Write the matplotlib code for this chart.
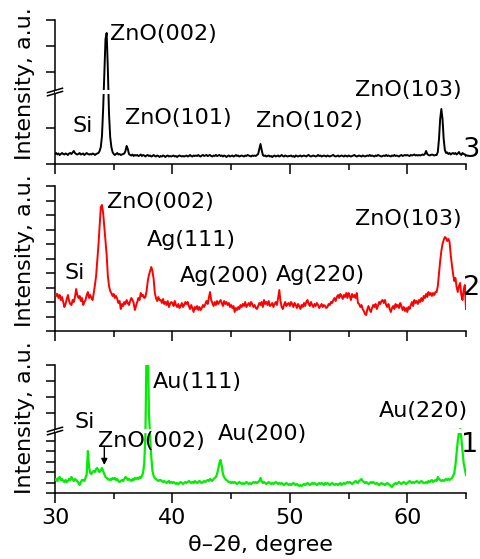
import numpy as np
import matplotlib
matplotlib.use("Agg")
import matplotlib.pyplot as plt
from matplotlib.patches import Rectangle
from matplotlib.ticker import MultipleLocator

plt.rcParams['font.family'] = ['DejaVu Sans']

# ---------------- data ----------------
angle_start, angle_stop, angle_step = 30.0, 65.0, 0.1
two_theta = np.round(np.arange(angle_start, angle_stop + angle_step / 2, angle_step), 1)

# sample 3 (black) : ZnO
intensity_zno = [
    10, 11, 9.5, 10.5, 9, 10, 11, 10, 9.5, 10.5,
    10, 9, 10.5, 11, 10, 11.5, 13, 11, 10, 9.5,
    10, 11, 9.5, 10, 10.5, 9, 10, 11, 10, 9.5,
    10, 9.5, 10.5, 10, 9, 10, 10.5, 11, 13, 17,
    28, 55, 162, 337, 367, 187, 50, 27, 17, 12,
    10, 9, 10, 11, 9.5, 10, 9, 9.5, 10, 10.5,
    13, 18, 15, 10, 9, 8.5, 9.5, 8, 9, 8.5,
    9, 8, 8.5, 9.5, 8, 9, 8.5, 7.5, 8.5, 9,
    8, 8.5, 7.5, 8, 9, 8, 7.5, 8.5, 8, 7,
    8, 7.5, 8.5, 8, 7, 8, 8.5, 7.5, 8, 7.5,
    8, 8.5, 7.5, 8, 7, 8, 8.5, 8, 7.5, 8,
    7.5, 8, 8.5, 7.5, 8, 9, 8, 7.5, 8.5, 8,
    8.5, 8, 9, 8, 7.5, 8.5, 9, 8, 8.5, 9,
    8, 8.5, 9, 8, 7.5, 8.5, 8, 9, 8, 8.5,
    9, 8, 8.5, 7.5, 8.5, 8, 7, 8, 8.5, 7.5,
    8, 8.5, 7.5, 8, 9, 8, 8.5, 7.5, 8, 8.5,
    8, 7.5, 8.5, 8, 9, 8.5, 8, 7.5, 8.5, 8,
    8.5, 8, 9, 10, 15, 20, 14, 9, 8, 8.5,
    7.5, 8, 8.5, 7.5, 8, 7, 8, 8.5, 7.5, 8,
    8.5, 7.5, 8, 9, 8, 7.5, 8.5, 8, 7.5, 8,
    8, 8.5, 7.5, 8, 7, 8.5, 8, 7.5, 8, 8.5,
    7.5, 8, 8.5, 8, 7.5, 8.5, 9, 8, 7.5, 8,
    8.5, 8, 7.5, 8, 9, 8, 8.5, 7.5, 8, 8.5,
    8, 7.5, 8.5, 8, 7.5, 8, 8.5, 9, 8, 7.5,
    8, 8.5, 7.5, 8, 8.5, 8, 7.5, 8.5, 8, 7.5,
    8.5, 8, 7.5, 8, 8.5, 9, 8, 7.5, 8, 8.5,
    8, 7.5, 8.5, 8, 7.5, 8, 8.5, 8, 9, 8,
    8.5, 8, 7.5, 8.5, 8, 9, 8.5, 8, 7.5, 8,
    8.5, 8, 9, 8, 8.5, 8, 7.5, 8.5, 8, 9,
    8, 8.5, 8, 7.5, 8.5, 9, 8, 8.5, 9, 8.5,
    9, 8.5, 8, 9, 8.5, 9, 9.5, 8.5, 9, 8.5,
    9, 8.5, 9, 9.5, 9, 10, 13, 10, 9, 8.5,
    9, 9.5, 9, 8.5, 9, 9, 12, 25, 45, 55,
    45, 25, 14, 11, 11.5, 10, 11, 9.5, 10.5, 11,
    10, 11, 9.5, 10.5, 12, 10, 9, 11, 10, 9.5,
    8,
]

# sample 2 (red) : ZnO + Ag
intensity_zno_ag = [
    39, 35, 37, 33, 36, 31, 34, 29, 24, 27,
    32, 36, 30, 27, 26, 31, 29, 34, 42, 36,
    33, 35, 30, 33, 26, 29, 31, 36, 39, 33,
    36, 33, 31, 38, 46, 55, 70, 86, 105, 124,
    126, 118, 104, 90, 76, 55, 45, 40, 38, 35,
    37, 33, 35, 32, 28, 30, 22, 27, 25, 29,
    27, 31, 28, 26, 30, 33, 31, 28, 21, 25,
    29, 33, 31, 38, 35, 36, 33, 34, 40, 50,
    56, 60, 64, 60, 52, 38, 33, 30, 34, 31,
    31, 28, 32, 27, 29, 26, 30, 24, 27, 29,
    28, 25, 30, 26, 24, 27, 23, 25, 28, 24,
    26, 29, 27, 29, 25, 22, 26, 23, 19, 24,
    22, 25, 21, 24, 21, 23, 26, 24, 27, 30,
    27, 33, 39, 31, 28, 25, 29, 26, 30, 27,
    29, 31, 28, 25, 30, 27, 29, 26, 28, 24,
    26, 23, 25, 19, 23, 21, 24, 22, 26, 24,
    27, 25, 29, 24, 26, 28, 25, 29, 27, 24,
    26, 23, 22, 25, 28, 26, 29, 24, 31, 27,
    29, 26, 30, 25, 26, 28, 24, 27, 29, 26,
    33, 41, 30, 24, 22, 26, 29, 25, 27, 28,
    25, 29, 27, 24, 28, 26, 23, 27, 25, 22,
    26, 24, 28, 25, 29, 31, 27, 25, 29, 26,
    24, 27, 25, 28, 26, 23, 25, 27, 24, 26,
    25, 23, 24, 27, 26, 29, 28, 31, 33, 30,
    34, 36, 33, 37, 35, 32, 36, 34, 38, 33,
    38, 35, 31, 37, 34, 36, 33, 38, 28, 27,
    24, 26, 22, 20, 17, 16, 22, 25, 21, 19,
    23, 26, 24, 27, 22, 25, 29, 27, 30, 31,
    28, 31, 26, 24, 27, 22, 19, 23, 25, 22,
    27, 24, 26, 23, 28, 25, 21, 24, 20, 23,
    19, 24, 22, 26, 29, 25, 31, 28, 30, 27,
    31, 29, 33, 30, 35, 33, 37, 34, 39, 36,
    38, 35, 38, 36, 39, 39, 45, 58, 70, 80,
    87, 91, 94, 93, 90, 92, 89, 76, 66, 57,
    50, 53, 44, 39, 45, 48, 36, 31, 41, 46,
    22,
]

# sample 1 (green) : ZnO + Au
intensity_zno_au = [
    13, 14, 12, 15, 16, 13, 14, 12, 11, 13,
    11, 12, 14, 13, 16, 14, 12, 14, 13, 12,
    10, 8, 11, 13, 13, 12, 15, 19, 42, 26,
    20, 19, 21, 22, 21, 24, 25, 22, 21, 23,
    25, 22, 19, 16, 15, 14, 13, 14, 13, 15,
    14, 15, 13, 14, 12, 11, 12, 13, 12, 14,
    16, 15, 13, 14, 13, 12, 14, 13, 15, 14,
    15, 14, 16, 15, 17, 20, 30, 58, 500, 500,
    152, 55, 36, 22, 17, 15, 14, 13, 12, 13,
    13, 12, 11, 12, 11, 10, 11, 12, 10, 11,
    10, 11, 10, 9, 10, 9, 10, 11, 10, 9,
    10, 11, 10, 11, 12, 11, 10, 11, 10, 12,
    11, 10, 11, 12, 11, 10, 11, 12, 11, 12,
    13, 12, 14, 13, 12, 14, 15, 16, 19, 24,
    30, 33, 27, 19, 16, 14, 13, 12, 11, 11,
    10, 11, 10, 11, 10, 9, 10, 11, 10, 9,
    10, 9, 10, 11, 10, 9, 10, 9, 10, 11,
    10, 11, 10, 11, 12, 15, 12, 10, 11, 10,
    9, 10, 11, 10, 9, 10, 9, 10, 11, 10,
    9, 10, 9, 10, 9, 8, 9, 10, 9, 8,
    9, 8, 9, 10, 9, 8, 9, 8, 7, 8,
    7, 8, 9, 8, 9, 10, 9, 8, 9, 10,
    9, 10, 9, 8, 9, 10, 9, 10, 9, 8,
    10, 9, 10, 9, 8, 9, 10, 9, 8, 9,
    9, 8, 9, 10, 8, 9, 10, 9, 10, 11,
    10, 11, 10, 9, 10, 11, 12, 11, 10, 12,
    13, 14, 12, 11, 10, 11, 10, 9, 10, 11,
    10, 11, 10, 9, 10, 9, 8, 9, 10, 9,
    9, 8, 9, 10, 9, 8, 7, 6, 8, 9,
    10, 9, 10, 11, 10, 9, 10, 11, 10, 9,
    10, 11, 12, 11, 10, 11, 10, 11, 12, 11,
    10, 11, 12, 11, 10, 10, 11, 10, 12, 11,
    12, 13, 11, 12, 13, 12, 16, 14, 13, 12,
    13, 12, 13, 14, 13, 14, 13, 14, 15, 17,
    20, 28, 40, 52, 61, 72, 55, 42, 30, 24,
    18,
]

# axis settings (arbitrary units)
x_ticks_major = [30, 40, 50, 60]
x_tick_labels = ["30", "40", "50", "60"]
yticks_zno = [0, 36, 172, 302, 432]
yticks_zno_ag = [0, 14.5, 29, 43.5, 58, 72.5, 87, 101.5, 116, 130.5, 145]
yticks_zno_au = [0, 10.4, 20.8, 31.2, 41.6, 52, 152, 232, 312, 392]
break_zno, compress_zno, ymax_zno = 72, 5, 432
ymax_zno_ag = 145
break_zno_au, compress_zno_au, ymax_zno_au = 62, 5, 392

# labels: (text, left px, baseline px)
labels_zno = [("ZnO(002)", 110, 40), ("Si", 73, 132), ("ZnO(101)", 125, 124),
              ("ZnO(102)", 256, 127), ("ZnO(103)", 355, 96)]
labels_zno_ag = [("ZnO(002)", 107, 208), ("Si", 65, 279), ("Ag(111)", 147, 246),
                 ("Ag(200)", 180, 282), ("Ag(220)", 276, 281), ("ZnO(103)", 355, 225)]
labels_zno_au = [("Au(111)", 153, 388), ("Si", 75, 428), ("ZnO(002)", 98, 447),
                 ("Au(200)", 218, 440), ("Au(220)", 379, 417)]
sample_numbers = [("3", 463, 157), ("2", 463, 295), ("1", 461, 452)]

# ---------------- figure ----------------
W, H = 480, 559
fig = plt.figure(figsize=(W / 100, H / 100), dpi=100)
FS = 16


def add_panel(top_px, bottom_px, left_px=55, right_px=466):
    return fig.add_axes([left_px / W, 1 - bottom_px / H,
                         (right_px - left_px) / W, (bottom_px - top_px) / H])


def piecewise(brk, c):
    def fwd(y):
        y = np.asarray(y, dtype=float)
        return np.where(y <= brk, y, brk + (y - brk) / c)

    def inv(y):
        y = np.asarray(y, dtype=float)
        return np.where(y <= brk, y, brk + (y - brk) * c)
    return fwd, inv


def style(ax, yticks, show_x_labels):
    for s in ("top", "right"):
        ax.spines[s].set_visible(False)
    for s in ("left", "bottom"):
        ax.spines[s].set_linewidth(1.1)
    ax.set_xlim(angle_start, angle_stop)
    ax.xaxis.set_major_locator(MultipleLocator(10))
    ax.xaxis.set_minor_locator(MultipleLocator(5))
    ax.set_yticks(yticks)
    ax.tick_params(axis="y", which="both", direction="out", length=6.5, width=1.1,
                   labelleft=False)
    ax.tick_params(axis="x", which="major", direction="out", length=7, width=1.1,
                   labelsize=FS, pad=4, labelbottom=show_x_labels)
    ax.tick_params(axis="x", which="minor", direction="out", length=4, width=1.1)
    ax.patch.set_alpha(0)


def draw_break(ax, brk):
    x0 = ax.get_xlim()[0]
    yb = ax.transAxes.inverted().transform(ax.transData.transform((x0, brk)))[1]
    hpx = ax.bbox.height
    wpx = ax.bbox.width
    gap = 1.6 / hpx
    ax.add_patch(Rectangle((-0.001, yb - gap), 1.002, 2 * gap, transform=ax.transAxes,
                           facecolor="white", edgecolor="none", zorder=5, clip_on=False))
    dx = 7.5 / wpx
    dy = 2.2 / hpx
    for s in (-1, 1):
        ax.plot([-dx, dx], [yb + s * gap - dy, yb + s * gap + dy], color="black",
                lw=1.1, transform=ax.transAxes, clip_on=False, zorder=6)


def put_labels(items, size=FS):
    for txt, xp, yp in items:
        fig.text(xp / W, 1 - yp / H, txt, fontsize=size, ha="left", va="baseline")


# panel 3 (top, black)
ax3 = add_panel(20, 164)
f3 = piecewise(break_zno, compress_zno)
ax3.set_yscale("function", functions=f3)
ax3.plot(two_theta, intensity_zno, color="black", lw=1.4, zorder=3)
ax3.set_ylim(0, ymax_zno)
style(ax3, yticks_zno, False)
draw_break(ax3, break_zno)

# panel 2 (middle, red)
ax2 = add_panel(186, 331)
ax2.plot(two_theta, intensity_zno_ag, color="#ff0000", lw=1.4, zorder=3)
ax2.set_ylim(0, ymax_zno_ag)
style(ax2, yticks_zno_ag, False)

# panel 1 (bottom, green)
ax1 = add_panel(365, 493)
f1 = piecewise(break_zno_au, compress_zno_au)
ax1.set_yscale("function", functions=f1)
ax1.plot(two_theta, intensity_zno_au, color="#00ee00", lw=1.6, zorder=3)
ax1.set_ylim(0, ymax_zno_au)
style(ax1, yticks_zno_au, True)
ax1.set_xticks(x_ticks_major)
ax1.set_xticklabels(x_tick_labels)
draw_break(ax1, break_zno_au)
ax1.set_xlabel("θ–2θ, degree", fontsize=FS, labelpad=5)
ax1.annotate("", xy=(34.2, 28), xytext=(34.2, 46),
             arrowprops=dict(arrowstyle="-|>", color="black", lw=1.0,
                             mutation_scale=9, shrinkA=0, shrinkB=0))

put_labels(labels_zno)
put_labels(labels_zno_ag)
put_labels(labels_zno_au)
put_labels(sample_numbers, size=19.5)

for yc in (84, 251, 418):
    fig.text(25 / W, 1 - yc / H, "Intensity, a.u.", rotation=90, fontsize=FS,
             ha="center", va="center")

fig.savefig("out.png", dpi=100)
